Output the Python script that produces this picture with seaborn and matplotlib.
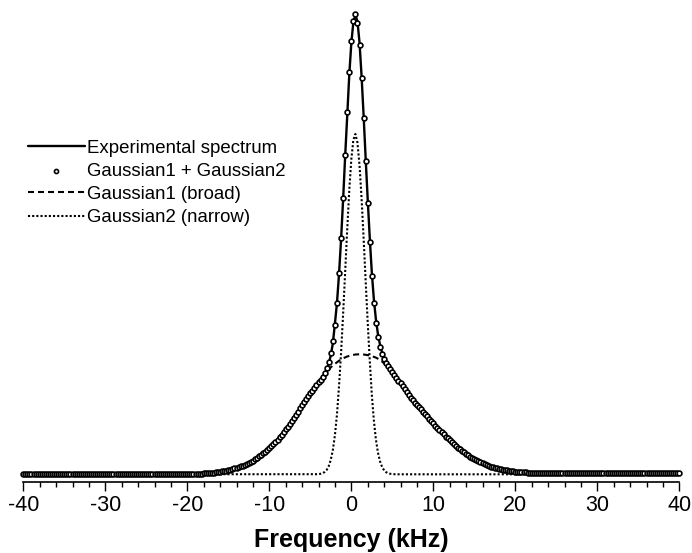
import numpy as np
import matplotlib
matplotlib.use("Agg")
import matplotlib.pyplot as plt
import seaborn as sns
from matplotlib.ticker import MultipleLocator

# ---------------- data (intensity in arbitrary units) ----------------
# Fitted sum Gaussian1 + Gaussian2, sampled every 0.25 kHz from -40 to +40 kHz
fit_step_khz = 0.25
fit_sum = [
    # -40.00 .. -20.25
    0.0, 0.0, 0.0, 0.0, 0.0, 0.0, 0.0, 0.0, 0.0, 0.0,
    0.0, 0.0, 0.0, 0.0, 0.0, 0.0, 0.0, 0.0, 0.0, 0.0,
    0.0, 0.0, 0.0, 0.0, 0.0, 0.0, 0.0, 0.0, 0.0, 0.0,
    0.0, 0.0, 0.0, 0.0, 0.0, 0.0, 0.0, 0.0, 0.0, 0.0,
    0.0, 0.0, 0.0, 0.0, 0.0, 0.0, 0.0, 0.0, 0.0, 0.0,
    0.0, 0.0, 0.0, 0.0, 0.0, 0.0, 0.0, 0.0, 0.0, 0.0,
    0.1, 0.1, 0.1, 0.1, 0.1, 0.1, 0.1, 0.1, 0.1, 0.1,
    0.2, 0.2, 0.2, 0.2, 0.2, 0.2, 0.2, 0.2, 0.2, 0.2,
    # -20.00 .. -4.25
    0.3, 0.3, 0.4, 0.4, 0.5, 0.6, 0.7, 0.8,
    0.9, 1.0, 1.2, 1.3, 1.5, 1.7, 2.0, 2.3,
    2.6, 3.0, 3.4, 3.8, 4.3, 4.8, 5.3, 5.9,
    6.5, 7.2, 8.0, 8.8, 9.6, 10.5, 11.5, 12.6,
    13.8, 15.1, 16.5, 17.9, 19.3, 20.9, 22.5, 24.4,
    26.3, 28.1, 30.0, 32.2, 34.5, 37.0, 39.5, 42.2,
    45.0, 47.7, 50.5, 53.5, 56.5, 59.6, 62.8, 65.9,
    69.0, 72.0, 75.0, 78.0, 81.0, 83.8, 86.5, 89.4,
    # -4.00 .. 5.00
    92.1, 94.7, 97.6, 101.3, 105.9, 112.5, 121.6, 133.0,
    149.4, 171.6, 201.4, 235.9, 275.9, 319.1, 362.5, 402.0,
    433.7, 453.8, 460.1, 451.5, 429.3, 396.2, 356.1, 313.1,
    271.0, 232.7, 198.0, 171.5, 151.5, 137.3, 127.6, 120.2,
    115.0, 111.1, 108.0, 105.0, 102.2,
    # 5.25 .. 23.00
    99.3, 96.5, 93.8, 91.0, 88.0, 85.0, 82.0, 79.0,
    76.5, 74.0, 71.8, 69.5, 67.3, 65.0, 62.8, 60.5,
    58.0, 55.5, 53.3, 51.0, 48.8, 46.5, 44.3, 42.0,
    39.9, 37.8, 35.9, 34.0, 32.1, 30.2, 28.4, 26.6,
    25.0, 23.4, 22.0, 20.5, 19.0, 17.6, 16.4, 15.2,
    14.1, 13.0, 12.0, 11.0, 10.1, 9.3, 8.5, 7.8,
    7.1, 6.5, 5.9, 5.4, 5.0, 4.6, 4.2, 3.9,
    3.6, 3.3, 3.0, 2.8, 2.6, 2.4, 2.2, 2.0,
    1.9, 1.8, 1.7, 1.6, 1.5, 1.5, 1.4, 1.4,
    # 23.25 .. 40.00
    1.4, 1.4, 1.4, 1.4, 1.4, 1.4, 1.4, 1.4, 1.4, 1.4,
    1.4, 1.4, 1.4, 1.4, 1.4, 1.4, 1.4, 1.4, 1.4, 1.4,
    1.4, 1.4, 1.4, 1.4, 1.4, 1.4, 1.4, 1.4,
    1.5, 1.5, 1.5, 1.5, 1.5, 1.5, 1.5, 1.5, 1.5, 1.5,
    1.5, 1.5, 1.5, 1.5, 1.5, 1.5, 1.5, 1.5, 1.5, 1.5,
    1.5, 1.5, 1.5, 1.5, 1.5, 1.5, 1.5, 1.5, 1.5, 1.5,
    1.5, 1.5, 1.5, 1.5, 1.5, 1.5, 1.5, 1.5, 1.5, 1.5,
]
fit_khz = np.round(np.arange(-40, 40 + fit_step_khz / 2, fit_step_khz), 2)
assert len(fit_khz) == len(fit_sum), (len(fit_khz), len(fit_sum))

# Experimental spectrum
exp_khz = [-40, -30, -25, -22, -20, -19, -18, -17, -16, -15, -14, -13, -12, -11,
           -10, -9, -8, -7, -6, -5, -4.5, -4, -3.5, -3.0, -2.75, -2.5, -2.25,
           -2.0, -1.75, -1.5, -1.25, -1.0, -0.75, -0.5, -0.25, 0, 0.25, 0.5,
           0.75, 1.0, 1.25, 1.5, 1.75, 2.0, 2.25, 2.5, 2.75, 3.0, 3.25, 3.5,
           3.75, 4.0, 4.25, 4.5, 5, 5.5, 6, 7, 8, 9, 10, 11, 12, 13, 14, 15,
           16, 17, 18, 19, 20, 21, 22, 24, 30, 40]
exp_int = [0.0, 0.0, 0.1, 0.2, 0.3, 0.5, 0.9, 1.5, 2.6, 4.3, 6.5, 9.6, 13.8, 19.3,
           26.3, 34.5, 45.0, 56.5, 69.0, 81.0, 86.5, 92.0, 97.5, 104.5, 110.5, 119.0, 131.0,
           150.5, 171.0, 200.0, 234.5, 274.5, 318.0, 358.0, 399.0, 431.0, 452.0, 459.5,
           453.0, 432.0, 398.5, 359.0, 316.0, 275.0, 236.5, 202.0, 175.0, 155.0, 140.0, 129.5,
           122.0, 116.5, 112.5, 108.5, 103.0, 97.0, 91.0, 79.0, 69.5, 60.5, 51.0, 42.0, 34.0, 26.6, 20.5, 15.2,
           11.0, 7.8, 5.4, 3.9, 2.8, 2.0, 1.6, 1.4, 1.4, 1.4]
assert len(exp_khz) == len(exp_int), (len(exp_khz), len(exp_int))

# Gaussian1 (broad)
broad_khz = [-40, -30] + list(np.round(np.arange(-25, 25.01, 0.5), 2)) + [30, 40]
broad_int = [0.0, 0.0,
             0.1, 0.1, 0.1, 0.1, 0.1, 0.2, 0.2, 0.2, 0.2, 0.2,
             0.3, 0.4, 0.5, 0.7, 0.9, 1.2, 1.5, 2.0, 2.6, 3.4,
             4.3, 5.3, 6.5, 8.0, 9.6, 11.5, 13.8, 16.5, 19.3, 22.5,
             26.3, 30.0, 34.5, 39.5, 45.0, 50.5, 56.5, 62.8, 69.0, 75.0,
             81.0, 86.5, 91.9, 96.5, 101.5, 107.0, 110.5, 113.5, 116.0, 117.8,
             119.0, 119.8, 120.0, 119.8, 119.2, 118.2, 116.7, 114.5, 111.0, 107.0,
             102.0, 96.5, 91.0, 85.0, 79.0, 74.0, 69.5, 65.0, 60.5, 55.5,
             51.0, 46.5, 42.0, 37.8, 34.0, 30.2, 26.6, 23.4, 20.5, 17.6,
             15.2, 13.0, 11.0, 9.3, 7.8, 6.5, 5.4, 4.6, 3.9, 3.3,
             2.8, 2.4, 2.0, 1.8, 1.6, 1.5, 1.4, 1.4, 1.4, 1.4,
             1.4,
             1.4, 1.5]
assert len(broad_khz) == len(broad_int), (len(broad_khz), len(broad_int))

# Gaussian2 (narrow)
narrow_khz = [-40] + list(np.round(np.arange(-4.25, 5.51, 0.25), 2)) + [40]
narrow_int = [0.0,
              0.1, 0.2, 0.5, 1.1, 2.3, 4.4, 8.2, 14.6, 24.2, 38.9,
              59.6, 87.9, 121.1, 159.9, 202.1, 244.7, 283.6, 314.7, 334.4, 340.3,
              331.6, 309.3, 276.3, 236.3, 193.6, 151.8, 114.0, 79.8, 54.0, 34.8,
              21.7, 13.1, 7.4, 4.0, 2.1, 1.0, 0.5, 0.2, 0.1, 0.0,
              0.0]
assert len(narrow_khz) == len(narrow_int), (len(narrow_khz), len(narrow_int))

tick_values = [-40, -30, -20, -10, 0, 10, 20, 30, 40]
x_label = "Frequency (kHz)"
legend_labels = ["Experimental spectrum", "Gaussian1 + Gaussian2",
                 "Gaussian1 (broad)", "Gaussian2 (narrow)"]

# ---------------- style ----------------
sns.set_style("ticks")
plt.rcParams['font.family'] = ['Liberation Sans', 'DejaVu Sans']
plt.rcParams['axes.unicode_minus'] = False
plt.rcParams['text.color'] = 'black'
plt.rcParams['axes.labelcolor'] = 'black'
plt.rcParams['xtick.color'] = 'black'
plt.rcParams['axes.edgecolor'] = 'black'

W, H = 692, 553
fig = plt.figure(figsize=(W / 100, H / 100), dpi=100)
ax = fig.add_axes([23.3 / W, (H - 482) / H, 656 / W, 478 / H])

sns.lineplot(x=narrow_khz, y=narrow_int, ax=ax, color='black', lw=1.5,
             linestyle=(0, (1, 1)), label=legend_labels[3], sort=False, zorder=1)
sns.lineplot(x=broad_khz, y=broad_int, ax=ax, color='black', lw=1.5,
             linestyle=(0, (2.9, 1.9)), label=legend_labels[2], sort=False, zorder=1.5)
sns.lineplot(x=exp_khz, y=exp_int, ax=ax, color='black', lw=1.7,
             label=legend_labels[0], sort=False, zorder=2)
sns.scatterplot(x=fit_khz, y=fit_sum, ax=ax, marker='o', s=12, color='white',
                edgecolor='black', linewidth=1.2, label=legend_labels[1],
                zorder=3, clip_on=False)

ax.set_xlim(-40, 40)
ax.set_ylim(-7.7, 470.3)
ax.set_xticks(tick_values)
ax.set_xticklabels([str(v) for v in tick_values])
ax.xaxis.set_minor_locator(MultipleLocator(2))
ax.tick_params(axis='x', which='major', direction='out', length=6.5, width=1.0,
               labelsize=15.5, pad=3, bottom=True)
ax.tick_params(axis='x', which='minor', direction='out', length=3.6, width=1.0,
               bottom=True)
ax.set_yticks([])
ax.set_ylabel('')
sns.despine(ax=ax, left=True)
ax.spines['bottom'].set_linewidth(1.2)
ax.set_xlabel(x_label, fontsize=18, fontweight='bold', labelpad=8.5)

handles, labels = ax.get_legend_handles_labels()
hmap = dict(zip(labels, handles))
ax.legend([hmap[l] for l in legend_labels], legend_labels,
          loc='upper left', bbox_to_anchor=(28 / W, 1 - 139.5 / H),
          bbox_transform=fig.transFigure, frameon=False, fontsize=13.4,
          handlelength=3.06, handletextpad=0.12, labelspacing=0.33,
          borderpad=0, borderaxespad=0, markerscale=0.85, scatterpoints=1)

fig.savefig('out.png', dpi=100)
